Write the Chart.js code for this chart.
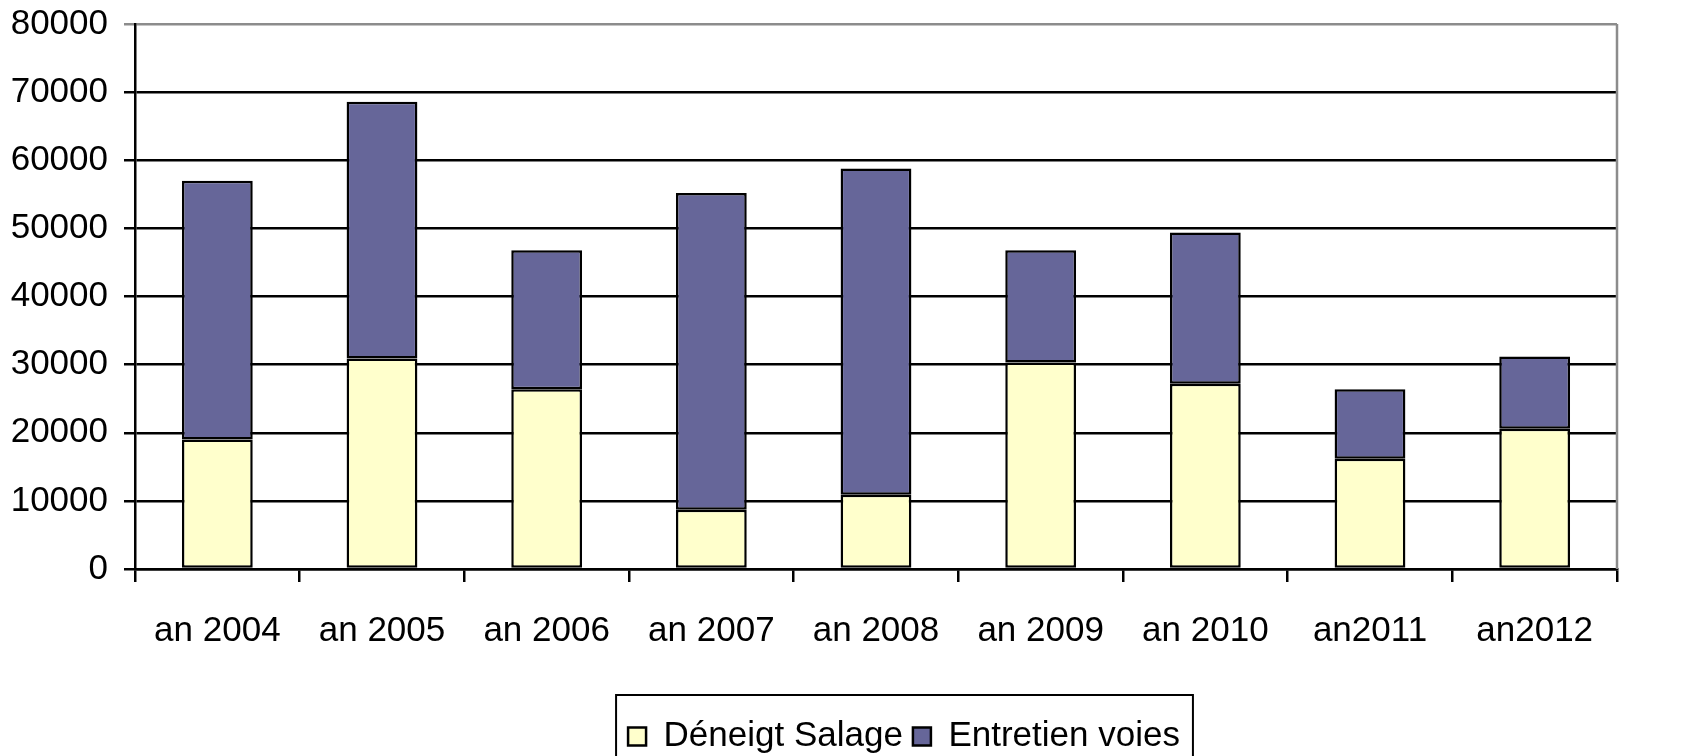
<!DOCTYPE html>
<html>
<head>
<meta charset="utf-8">
<script src="https://cdn.jsdelivr.net/npm/chart.js@4"></script>
<style>
  html, body { margin: 0; padding: 0; background: #fff; }
  #wrap { width: 1684px; height: 756px; }
</style>
</head>
<body>
<div id="wrap"><canvas id="myChart"></canvas></div>
<script>
const years = ['an 2004', 'an 2005', 'an 2006', 'an 2007', 'an 2008', 'an 2009', 'an 2010', 'an2011', 'an2012'];
const deneigt = [19000, 30900, 26400, 8700, 10900, 30300, 27200, 16200, 20600];
const entretien = [38000, 37700, 20400, 46500, 47900, 16500, 22200, 10200, 10600];
const yTicks = [0, 10000, 20000, 30000, 40000, 50000, 60000, 70000, 80000];

const FONT = { family: '"Liberation Sans", Arial, sans-serif', size: 35 };

// legend placement, legend frame and grey right border of the plot
const extras = {
  id: 'extras',
  afterLayout(chart) {
    const lg = chart.legend;
    const shift = 904 - (lg.left + lg.right) / 2;
    lg.left += shift;
    lg.right += shift;
    const h = lg.bottom - lg.top;
    lg.top = 709;
    lg.bottom = lg.top + h;
  },
  afterDraw(chart) {
    const ctx = chart.ctx;
    const a = chart.chartArea;
    ctx.save();
    ctx.strokeStyle = '#8c8c8c';
    ctx.lineWidth = 2.5;
    ctx.beginPath();
    ctx.moveTo(a.right, a.top);
    ctx.lineTo(a.right, a.bottom);
    ctx.stroke();

    const boxes = chart.legend.legendHitBoxes;
    if (boxes && boxes.length) {
      const first = boxes[0];
      const last = boxes[boxes.length - 1];
      ctx.strokeStyle = '#000';
      ctx.lineWidth = 2;
      ctx.strokeRect(first.left - 12, 695, last.left + last.width - first.left + 25, 80);
    }
    ctx.restore();
  }
};

document.addEventListener('DOMContentLoaded', function () {
  const ctx = document.getElementById('myChart');
  new Chart(ctx, {
    type: 'bar',
    data: {
      labels: years,
      datasets: [
        {
          label: 'Déneigt Salage',
          data: deneigt,
          backgroundColor: '#FFFFCC',
          borderColor: '#000',
          borderWidth: 2.5,
          borderSkipped: false,
        },
        {
          label: 'Entretien voies',
          data: entretien,
          backgroundColor: '#666699',
          borderColor: '#000',
          borderWidth: 2.5,
          borderSkipped: false,
        },
      ],
    },
    options: {
      responsive: true,
      maintainAspectRatio: false,
      animation: false,
      layout: { padding: { left: 0, top: 24, right: 67, bottom: 0 } },
      datasets: { bar: { categoryPercentage: 1, barPercentage: 0.43 } },
      plugins: {
        tooltip: { enabled: false },
        legend: {
          position: 'bottom',
          labels: {
            font: FONT,
            color: '#000',
            boxWidth: 18,
            boxHeight: 18,
            padding: 10,
          },
        },
      },
      scales: {
        x: {
          stacked: true,
          afterFit: (s) => { s.height = 132; },
          grid: {
            offset: true,
            drawOnChartArea: false,
            drawTicks: true,
            tickLength: 13,
            color: '#000',
            lineWidth: 2.5,
          },
          border: { color: '#000', width: 2.5 },
          ticks: { font: FONT, color: '#000', padding: 28 },
        },
        y: {
          stacked: true,
          min: 0,
          max: 80000,
          afterFit: (s) => { s.width = 135; s.paddingTop = 0; s.paddingBottom = 0; },
          afterBuildTicks: (s) => { s.ticks = yTicks.map((v) => ({ value: v })); },
          grid: {
            color: (c) => (c.tick && c.tick.value === 80000 ? '#8c8c8c' : '#000'),
            lineWidth: 2.5,
            tickLength: 11,
          },
          border: { color: '#000', width: 2.5 },
          ticks: { font: FONT, color: '#000', padding: 16, callback: (v) => String(v) },
        },
      },
    },
    plugins: [extras],
  });
});
</script>
</body>
</html>
